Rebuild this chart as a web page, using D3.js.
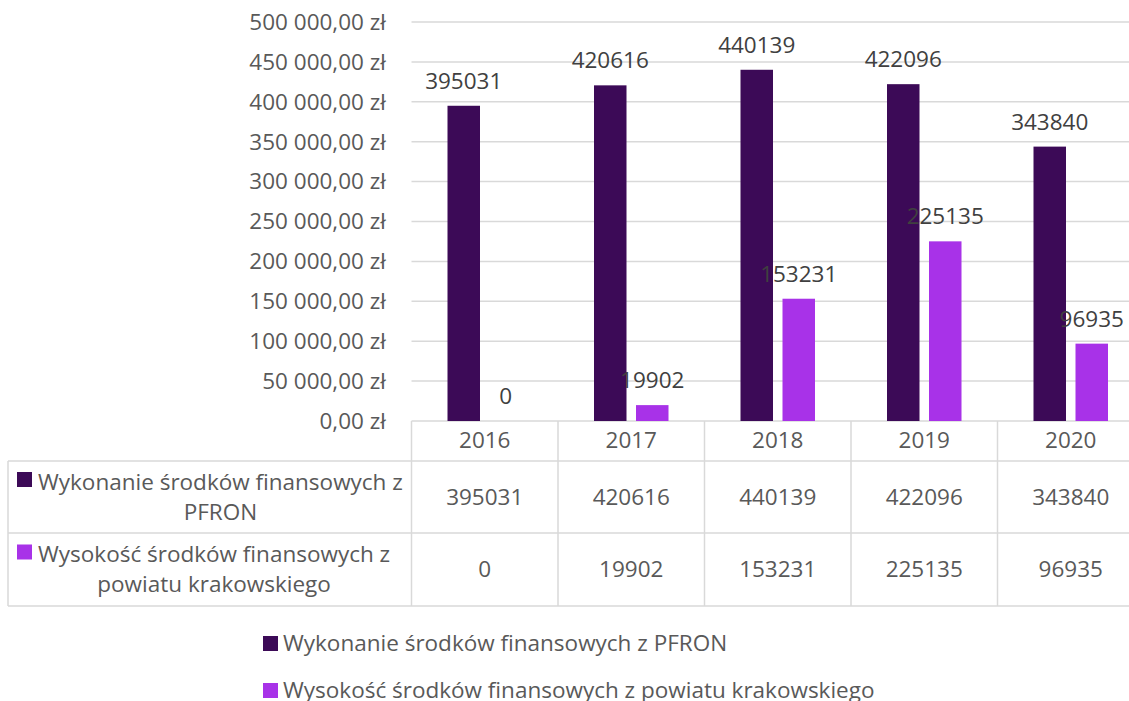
<!DOCTYPE html>
<html><head><meta charset="utf-8">
<script src="https://cdn.jsdelivr.net/npm/d3@7"></script>
<style>body{margin:0;background:#fff;overflow:hidden}svg{display:block}text{font-family:"Open Sans",sans-serif;fill:#595959}</style>
</head><body><svg id="c" width="1129" height="701"></svg>
<script>
const categories = ["2016","2017","2018","2019","2020"];
const seriesNames = ["Wykonanie środków finansowych z PFRON","Wysokość środków finansowych z powiatu krakowskiego"];
const tableLabels = [["Wykonanie środków finansowych z","PFRON"],["Wysokość środków finansowych z","powiatu krakowskiego"]];
const pfron = [395031,420616,440139,422096,343840];
const powiat = [0,19902,153231,225135,96935];
const yTicks = [0,50000,100000,150000,200000,250000,300000,350000,400000,450000,500000];
const colors = ["#3c0a57","#a832e8"];

const svg = d3.select("#c");
const fs = 22.5;
const x0 = 411.5, bandW = 146.5, yTop = 22, yBot = 421;
const x = d3.scaleBand().domain(categories).range([x0, x0+bandW*5]).padding(0);
const y = d3.scaleLinear().domain([0,500000]).range([yBot,yTop]);
const fmt = v => d3.format(",.2f")(v).replace(/,/g," ").replace(".",",") + " zł";

// gridlines
svg.append("g").selectAll("line").data(yTicks).join("line")
  .attr("x1",x0).attr("x2",1129).attr("y1",d=>y(d)).attr("y2",d=>y(d))
  .attr("stroke","#d9d9d9").attr("stroke-width",1.5);
// y labels
svg.append("g").selectAll("text").data(yTicks).join("text")
  .attr("x",386).attr("y",d=>y(d)).attr("dy","0.35em").attr("text-anchor","end")
  .attr("font-size",fs).text(fmt);

const series = [pfron, powiat];
const bw = 32.5, gap = 9.5;
series.forEach((s,i)=>{
  const off = -(bw*2+gap)/2 + i*(bw+gap);
  const g = svg.append("g");
  g.selectAll("rect").data(s).join("rect")
   .attr("x",(d,j)=>x(categories[j])+x.bandwidth()/2+off)
   .attr("width",bw).attr("y",d=>y(d)).attr("height",d=>yBot-y(d)).attr("fill",colors[i]);
  g.selectAll("text").data(s).join("text")
   .attr("x",(d,j)=>x(categories[j])+x.bandwidth()/2+off+bw/2)
   .attr("y",d=>y(d)-17).attr("text-anchor","middle").attr("font-size",fs)
   .style("fill","#404040").text(d=>d);
});

// table
const rowY = [421,461,533,606];
const tl = svg.append("g").attr("stroke","#d9d9d9").attr("stroke-width",1.5);
[461,533,606].forEach(yy=>tl.append("line").attr("x1",8).attr("x2",1129).attr("y1",yy).attr("y2",yy));
tl.append("line").attr("x1",8).attr("x2",8).attr("y1",461).attr("y2",606);
categories.forEach(c=>{
  tl.append("line").attr("x1",x(c)).attr("x2",x(c)).attr("y1",421).attr("y2",606);
});
// header
svg.append("g").selectAll("text").data(categories).join("text")
  .attr("x",d=>x(d)+x.bandwidth()/2).attr("y",440).attr("dy","0.35em")
  .attr("text-anchor","middle").attr("font-size",fs).text(d=>d);
series.forEach((s,i)=>{
  const cy = (rowY[i+1]+rowY[i+2])/2;
  svg.append("g").selectAll("text").data(s).join("text")
   .attr("x",(d,j)=>x(categories[j])+x.bandwidth()/2).attr("y",cy).attr("dy","0.35em")
   .attr("text-anchor","middle").attr("font-size",fs).text(d=>d);
  const lines = tableLabels[i];
  const tmp = svg.append("text").attr("font-size",fs).text(lines[0]);
  const w = tmp.node().getComputedTextLength();
  tmp.remove();
  const cx = 38 + w/2;
  lines.forEach((ln,k)=>{
    svg.append("text").attr("x",cx).attr("y",cy-15+k*30).attr("dy","0.35em")
      .attr("text-anchor","middle").attr("font-size",fs).text(ln);
  });
  svg.append("rect").attr("x",17).attr("y",cy-15-10).attr("width",15).attr("height",15).attr("fill",colors[i]);
});

// legend
seriesNames.forEach((n,i)=>{
  const ly = 643 + i*47;
  svg.append("rect").attr("x",263).attr("y",ly-7).attr("width",15).attr("height",15).attr("fill",colors[i]);
  svg.append("text").attr("x",283).attr("y",ly).attr("dy","0.35em").attr("font-size",fs).text(n);
});
</script></body></html>
